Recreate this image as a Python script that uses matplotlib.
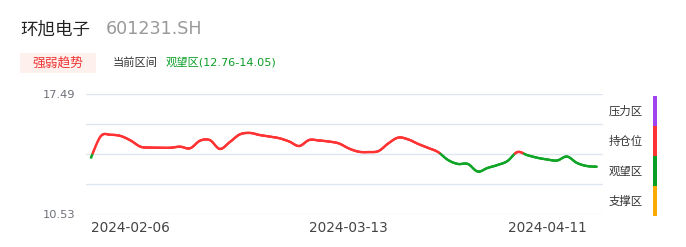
import numpy as np
import matplotlib
matplotlib.use("Agg")
import matplotlib.pyplot as plt
from matplotlib.collections import LineCollection
from matplotlib.patches import Rectangle

plt.rcParams['font.family'] = ['DejaVu Sans', 'Noto Sans CJK SC']

# closing prices (one per trading day)
prices = [13.81, 15.07, 15.14, 15.07, 14.81, 14.45, 14.40, 14.39, 14.39, 14.45,
          14.36, 14.80, 14.83, 14.32, 14.72, 15.16, 15.25, 15.13, 15.04, 14.94,
          14.75, 14.49, 14.84, 14.81, 14.75, 14.64, 14.35, 14.16, 14.14, 14.20,
          14.65, 14.98, 14.87, 14.61, 14.38, 14.14, 13.68, 13.45, 13.45, 13.01,
          13.22, 13.39, 13.62, 14.14, 13.96, 13.81, 13.71, 13.65, 13.88, 13.51,
          13.33, 13.29]
tick_idx = [4, 26, 46]
tick_labels = ['2024-02-06', '2024-03-13', '2024-04-11']
y_min, y_max = 10.53, 17.49
zone_low, zone_high = 12.76, 14.05   # 观望区 range
zone_names = ['压力区', '持仓位', '观望区', '支撑区']
zone_colors = ['#a044f0', '#ff3333', '#0a9e26', '#ffaa00']

RED = '#ff3333'
GREEN = '#10a526'

W, H = 686, 247


def fx(px):
    return px / W


def fy(py):
    return 1 - py / H


def catmull_rom(x, y, n=12):
    x = np.asarray(x, float)
    y = np.asarray(y, float)
    px = np.concatenate([[x[0]], x, [x[-1]]])
    py = np.concatenate([[y[0]], y, [y[-1]]])
    t = np.linspace(0, 1, n, endpoint=False)
    xs, ys = [], []
    for i in range(1, len(px) - 2):
        for arr, out in ((px, xs), (py, ys)):
            p0, p1, p2, p3 = arr[i - 1], arr[i], arr[i + 1], arr[i + 2]
            out.append(0.5 * (2 * p1 + (-p0 + p2) * t
                              + (2 * p0 - 5 * p1 + 4 * p2 - p3) * t ** 2
                              + (-p0 + 3 * p1 - 3 * p2 + p3) * t ** 3))
    xs = np.concatenate(xs + [[x[-1]]])
    ys = np.concatenate(ys + [[y[-1]]])
    return xs, ys


fig = plt.figure(figsize=(W / 100, H / 100), dpi=100)
ax = fig.add_axes([fx(86), fy(214.3), fx(603) - fx(86), fy(94.3) - fy(214.3)])

idx = np.arange(len(prices))
xs, ys = catmull_rom(idx, prices)
pts = np.column_stack([xs, ys]).reshape(-1, 1, 2)
segs = np.concatenate([pts[:-1], pts[1:]], axis=1)
mid = (ys[:-1] + ys[1:]) / 2
cols = [RED if v >= zone_high else GREEN for v in mid]
lc = LineCollection(segs, colors=cols, linewidths=1.7, capstyle='round', joinstyle='round')
ax.add_collection(lc)

grid = np.linspace(y_min, y_max, 5)
for g in grid:
    ax.axhline(g, color='#e0e6f1', lw=1, zorder=0)

ax.set_xlim(-0.5, 51.63)
ax.set_ylim(y_min, y_max)
for s in ax.spines.values():
    s.set_visible(False)
ax.set_yticks([y_min, y_max])
ax.set_yticklabels([f'{y_min:.2f}', f'{y_max:.2f}'])
ax.set_xticks(tick_idx)
ax.set_xticklabels(tick_labels)
ax.tick_params(axis='y', length=0, pad=7.5, labelsize=8.2, labelcolor='#6e7079')
ax.tick_params(axis='x', length=0, pad=5, labelsize=9.8, labelcolor='#444444')

# header
fig.text(fx(20), fy(29), '环旭电子', fontsize=12.6, color='#222222', va='center')
fig.text(fx(106), fy(29), '601231.SH', fontsize=12.6, color='#999999', va='center')
fig.add_artist(Rectangle((fx(20), fy(73.3)), fx(76), 20 / H, transform=fig.transFigure,
                         facecolor='#fef0ed', edgecolor='none'))
fig.text(fx(58), fy(63), '强弱趋势', fontsize=9.2, color='#f03434', ha='center', va='center')
fig.text(fx(113), fy(62.5), '当前区间', fontsize=8.1, color='#333333', va='center')
fig.text(fx(165.5), fy(62.5), f'观望区({zone_low:.2f}-{zone_high:.2f})', fontsize=8.1,
         color='#0a9e26', va='center')

# zone legend on the right
for k, (name, c) in enumerate(zip(zone_names, zone_colors)):
    top = 96 + 30 * k
    fig.add_artist(Rectangle((fx(652.7), fy(top + 30)), 4.6 / W, 30 / H,
                             transform=fig.transFigure, facecolor=c, edgecolor='none'))
    fig.text(fx(642.7), fy(top + 15.5), name, fontsize=8.2, color='#333333',
             ha='right', va='center')

fig.savefig('out.png', dpi=100)
